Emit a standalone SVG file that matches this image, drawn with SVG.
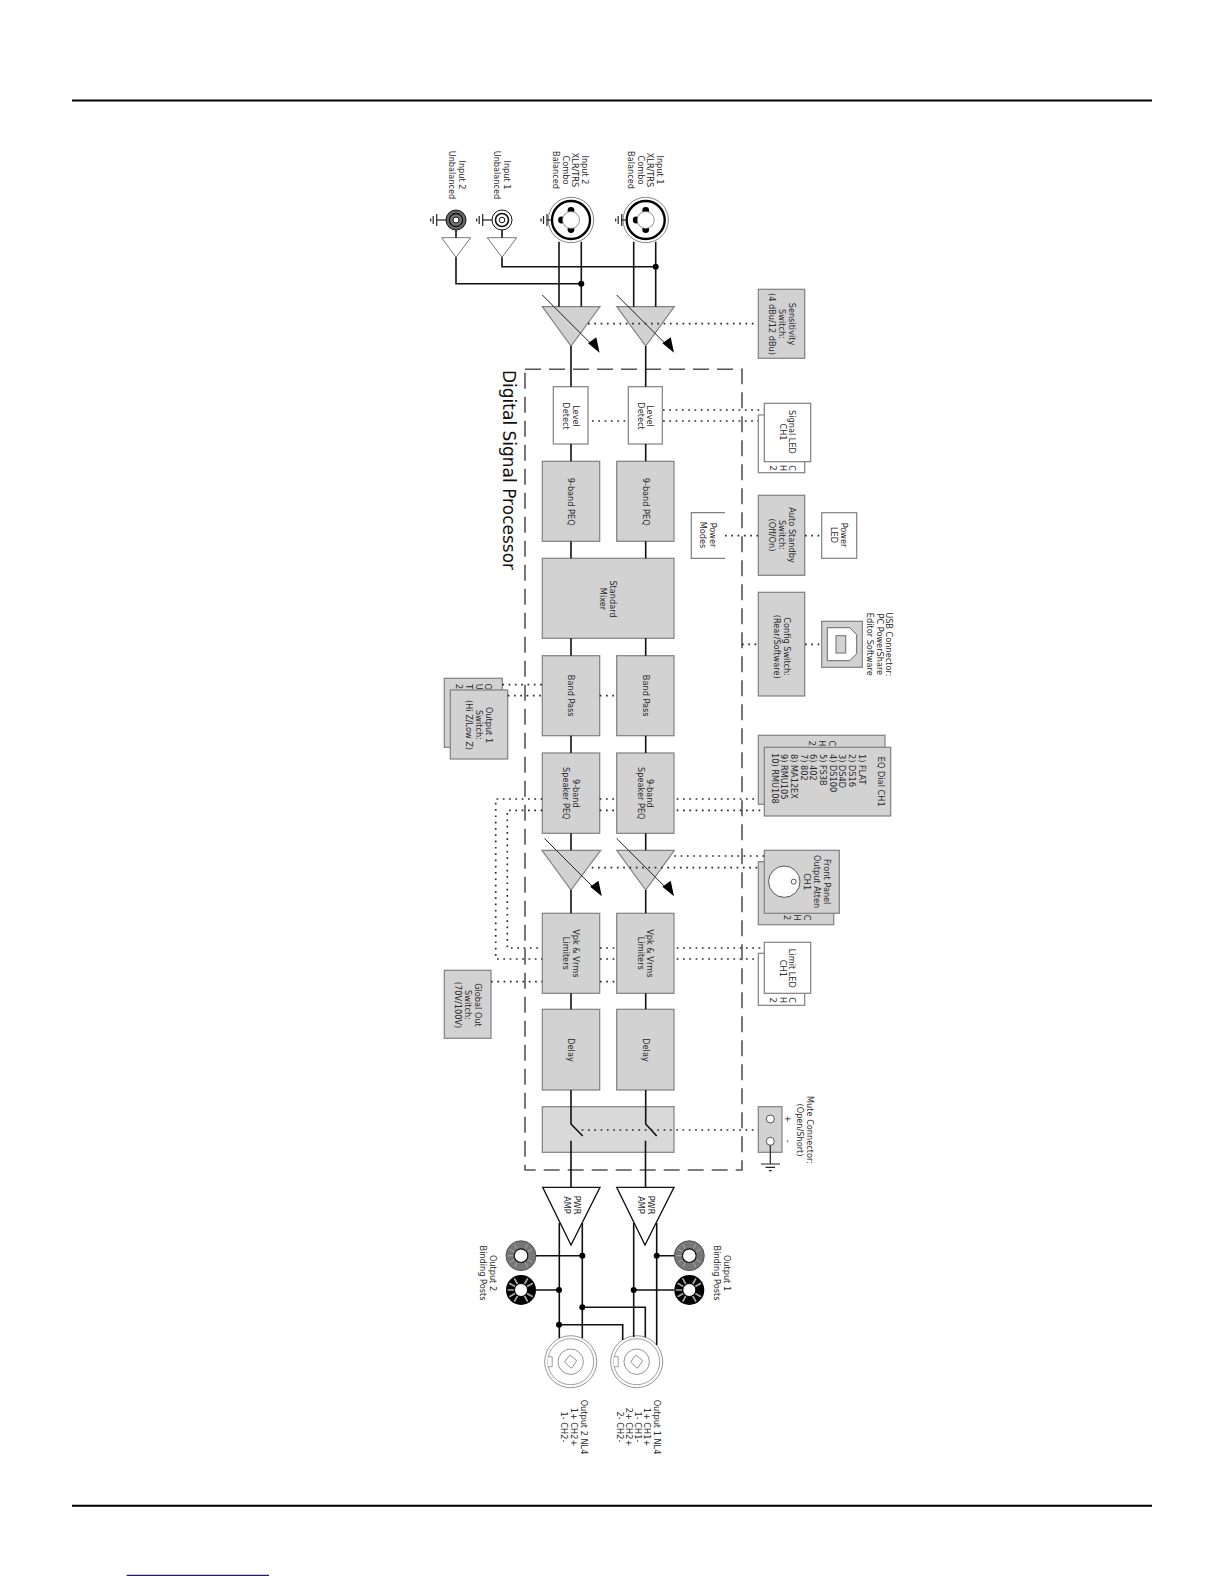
<svg xmlns="http://www.w3.org/2000/svg" xmlns:xlink="http://www.w3.org/1999/xlink" width="1224" height="1584" viewBox="0 0 1224 1584">
<style>
text{font-family:"DejaVu Sans","Liberation Sans",sans-serif;font-size:8.2px;fill:#2a2a2a;text-anchor:middle}
.s{text-anchor:start}
.title{font-size:17px;text-anchor:start;fill:#111}
.g{fill:#d2d2d2;stroke:#808080;stroke-width:1.2}
.w{fill:#fff;stroke:#808080;stroke-width:1.2}
.k{fill:none;stroke:#111;stroke-width:1.6}
.d{fill:none;stroke:#2a2a2a;stroke-width:1.7;stroke-dasharray:1.7 4.6}
.dash{fill:none;stroke:#555;stroke-width:1.6;stroke-dasharray:16 8}
.dot{fill:#000}
.thin{fill:#fff;stroke:#555;stroke-width:.8}
.gnd{fill:none;stroke:#222;stroke-width:1.2}
</style>
<defs>
<g id="xlr"><circle r="22.7" fill="#fff" stroke="#666" stroke-width=".8"/><circle r="19" fill="#fff" stroke="#000" stroke-width="2.4"/><circle cy="-9.5" r="3.4" fill="#000"/><circle cy="9.5" r="3.4" fill="#000"/><circle cx="-9.5" r="3.4" fill="#000"/><circle r="8.5" fill="#fff" stroke="#666" stroke-width=".7"/></g>
<g id="arrow"><path d="M0 0L52 52" fill="none" stroke="#222" stroke-width="1"/><path d="M45.7 48.3L54 42.3L57.3 57.7Z" fill="#000"/></g>
<g id="post1"><circle r="15" fill="#777" stroke="#444" stroke-width=".8"/><path d="M-13 0H-8M-11.3 -6.5L-7 -4M-6.5 -11.3L-4 -7M6.5 -11.3L4 -7M11.3 -6.5L7 -4M-11.3 6.5L-7 4M-6.5 11.3L-4 7M6.5 11.3L4 7M11.3 6.5L7 4" stroke="#aaa" stroke-width="1"/><circle r="6.8" fill="#fff" stroke="#111" stroke-width="1.1"/></g>
<g id="post2"><circle r="15" fill="#000"/><path d="M-13.5 0H-7M-11.7 -6.7L-6 -3.5M-6.7 -11.7L-3.5 -6M6.7 -11.7L3.5 -6M11.7 -6.7L6 -3.5M-11.7 6.7L-6 3.5M-6.7 11.7L-3.5 6M6.7 11.7L3.5 6M11.7 6.7L6 3.5" stroke="#aaa" stroke-width="1.7"/><circle r="6.5" fill="#fff" stroke="#000" stroke-width="1"/></g>
<g id="nl4"><circle r="26" fill="#fff" stroke="#666" stroke-width=".7"/><circle r="23" fill="#fff" stroke="#777" stroke-width=".7"/><path d="M-23 -5H-18.5V5H-23" fill="#fff" stroke="#777" stroke-width=".7"/><circle r="12.7" fill="#fff" stroke="#666" stroke-width=".7"/><path d="M-6 0L-1 -6.5L2 -4.5L6 -1L1 6.5L-2 4.5Z" fill="#fff" stroke="#666" stroke-width=".7"/></g>
<path id="xgnd" d="M0 -6V6M-3.5 -4V4M-6 -1.5V1.5" class="gnd"/>
</defs>

<rect width="1224" height="1584" fill="#fff"/>
<g id="page-rules">
<path d="M72 100.5H1152M72 1505.7H1152" stroke="#000" stroke-width="2" fill="none"/>
<path d="M126.7 1575.3H269" stroke="#1a1a80" stroke-width="1.2" fill="none"/>
</g>

<g id="dsp-frame">
<rect x="525" y="369.3" width="217" height="800.7" class="dash"/>
<text class="title" transform="translate(503 370) rotate(90)">Digital Signal Processor</text>
</g>

<g id="nodes">
<g id="input2-unbal"><circle cx="456" cy="220" r="10" fill="#666" stroke="#111" stroke-width="1"/><circle cx="456" cy="220" r="6.5" fill="#777" stroke="#111" stroke-width="1.3"/><circle cx="456" cy="220" r="3" fill="#fff" stroke="#111" stroke-width="1"/><path d="M436.7 220H446" class="gnd"/><use xlink:href="#xgnd" href="#xgnd" x="436.7" y="220"/><path d="M441.7 237.7H470.7L456 257.3Z" class="thin"/>
<text transform="translate(458.7 175) rotate(90)"><tspan x="0">Input 2</tspan><tspan x="0" dy="10">Unbalanced</tspan></text></g>
<g id="input1-unbal"><circle cx="502" cy="220" r="10" fill="#fff" stroke="#111" stroke-width="1"/><circle cx="502" cy="220" r="6.5" fill="#fff" stroke="#111" stroke-width="1.6"/><circle cx="502" cy="220" r="2.8" fill="#fff" stroke="#111" stroke-width="1"/><path d="M482.7 220H492" class="gnd"/><use xlink:href="#xgnd" href="#xgnd" x="482.7" y="220"/><path d="M487.3 237.7H516.7L502 257.3Z" class="thin"/>
<text transform="translate(503.7 175) rotate(90)"><tspan x="0">Input 1</tspan><tspan x="0" dy="10">Unbalanced</tspan></text></g>
<g id="input2-xlr"><use xlink:href="#xlr" href="#xlr" x="571" y="220"/><path d="M552 220H547" class="gnd"/><use xlink:href="#xgnd" href="#xgnd" x="547" y="220"/>
<text transform="translate(582 170) rotate(90)"><tspan x="0">Input 2</tspan><tspan x="0" dy="9.7">XLR/TRS</tspan><tspan x="0" dy="9.7">Combo</tspan><tspan x="0" dy="9.7">Balanced</tspan></text></g>
<g id="input1-xlr"><use xlink:href="#xlr" href="#xlr" x="645.7" y="220"/><path d="M626.7 220H621.7" class="gnd"/><use xlink:href="#xgnd" href="#xgnd" x="621.7" y="220"/>
<text transform="translate(657 170) rotate(90)"><tspan x="0">Input 1</tspan><tspan x="0" dy="9.7">XLR/TRS</tspan><tspan x="0" dy="9.7">Combo</tspan><tspan x="0" dy="9.7">Balanced</tspan></text></g>

<g id="gain1"><path d="M616.7 306.7H674.3L645.7 346Z" class="g"/></g>
<g id="gain2"><path d="M542.3 306.7H600L571 346Z" class="g"/></g>
<g id="sensitivity"><rect x="758.3" y="289.3" width="46.4" height="69" class="g"/><text transform="translate(788.7 324) rotate(90)"><tspan x="0">Sensitivity</tspan><tspan x="0" dy="10">Switch:</tspan><tspan x="0" dy="10">(4 dBu/12 dBu)</tspan></text></g>

<g id="level1"><rect x="628.3" y="386.7" width="34" height="57.3" class="w"/><text transform="translate(647 416) rotate(90)"><tspan x="0">Level</tspan><tspan x="0" dy="9.5">Detect</tspan></text></g>
<g id="level2"><rect x="553.3" y="386.7" width="34.7" height="57.3" class="w"/><text transform="translate(572.7 416) rotate(90)"><tspan x="0">Level</tspan><tspan x="0" dy="9.5">Detect</tspan></text></g>
<g id="peq1"><rect x="616.7" y="461.3" width="57.3" height="80" class="g"/><text transform="translate(642.5 501.7) rotate(90)">9-band PEQ</text></g>
<g id="peq2"><rect x="542.3" y="461.3" width="57.4" height="80" class="g"/><text transform="translate(567.8 501.7) rotate(90)">9-band PEQ</text></g>
<g id="mixer"><rect x="542.3" y="558.3" width="131.7" height="80" class="g"/><text transform="translate(609.7 599) rotate(90)"><tspan x="0">Standard</tspan><tspan x="0" dy="9.7">Mixer</tspan></text></g>
<g id="bp1"><rect x="616.7" y="655.7" width="57.3" height="80" class="g"/><text transform="translate(642.5 695.7) rotate(90)">Band Pass</text></g>
<g id="bp2"><rect x="542.3" y="655.7" width="57.4" height="80" class="g"/><text transform="translate(567.8 695.7) rotate(90)">Band Pass</text></g>
<g id="spk1"><rect x="616.7" y="753" width="57.3" height="80.3" class="g"/><text transform="translate(647 793.3) rotate(90)"><tspan x="0">9-band</tspan><tspan x="0" dy="9.5">Speaker PEQ</tspan></text></g>
<g id="spk2"><rect x="542.3" y="753" width="57.4" height="80.3" class="g"/><text transform="translate(573 793.3) rotate(90)"><tspan x="0">9-band</tspan><tspan x="0" dy="9.7">Speaker PEQ</tspan></text></g>
<g id="att1"><path d="M616.7 850.3H674.3L645.7 890Z" class="g"/></g>
<g id="att2"><path d="M542 850.3H600.7L571 890Z" class="g"/></g>
<g id="lim1"><rect x="616.7" y="913.3" width="57.3" height="80" class="g"/><text transform="translate(647 953.3) rotate(90)"><tspan x="0">Vpk &amp; Vrms</tspan><tspan x="0" dy="9.5">Limiters</tspan></text></g>
<g id="lim2"><rect x="542.3" y="913.3" width="57.4" height="80" class="g"/><text transform="translate(573 953.3) rotate(90)"><tspan x="0">Vpk &amp; Vrms</tspan><tspan x="0" dy="9.7">Limiters</tspan></text></g>
<g id="delay1"><rect x="616.7" y="1009.3" width="57.3" height="80.7" class="g"/><text transform="translate(642.5 1050) rotate(90)">Delay</text></g>
<g id="delay2"><rect x="542.3" y="1009.3" width="57.4" height="80.7" class="g"/><text transform="translate(567.8 1050) rotate(90)">Delay</text></g>
<g id="mute-block"><rect x="542.3" y="1106.7" width="131.7" height="45.6" fill="#d9d9d9" stroke="#808080" stroke-width="1.2"/></g>
<g id="pwr1"><path d="M616.7 1187.3H674L645 1245Z" fill="#fff" stroke="#111" stroke-width="1.3"/><text transform="translate(647.7 1205) rotate(90)"><tspan x="0">PWR</tspan><tspan x="0" dy="9.7">AMP</tspan></text></g>
<g id="pwr2"><path d="M542.7 1187.3H600L571 1245Z" fill="#fff" stroke="#111" stroke-width="1.3"/><text transform="translate(573.7 1205) rotate(90)"><tspan x="0">PWR</tspan><tspan x="0" dy="9.7">AMP</tspan></text></g>

<g id="signal-led"><rect x="758.3" y="415" width="46.4" height="57.7" class="w"/><text transform="translate(789.3 468) rotate(90)"><tspan x="0">C</tspan><tspan x="0" dy="9.8">H</tspan><tspan x="0" dy="9.8">2</tspan></text><rect x="764.3" y="403.3" width="46.4" height="58.4" class="w"/><text transform="translate(789.3 432) rotate(90)"><tspan x="0">Signal LED</tspan><tspan x="0" dy="9.6">CH1</tspan></text></g>
<g id="auto-standby"><rect x="758.3" y="495.3" width="46.4" height="80" class="g"/><text transform="translate(789.3 535) rotate(90)"><tspan x="0">Auto Standby</tspan><tspan x="0" dy="10">Switch:</tspan><tspan x="0" dy="10">(Off/On)</tspan></text></g>
<g id="power-modes"><path d="M725 512.7H691.3V558.3H725" class="w"/><text transform="translate(710.3 535) rotate(90)"><tspan x="0">Power</tspan><tspan x="0" dy="10">Modes</tspan></text></g>
<g id="power-led"><rect x="821.7" y="512.7" width="35" height="45.6" class="w"/><text transform="translate(840.7 535) rotate(90)"><tspan x="0">Power</tspan><tspan x="0" dy="9.5">LED</tspan></text></g>
<g id="config"><rect x="758.3" y="592.3" width="46.4" height="103.7" class="g"/><text transform="translate(783.7 646.7) rotate(90)"><tspan x="0">Config Switch:</tspan><tspan x="0" dy="10">(Rear/Software)</tspan></text></g>
<g id="usb"><rect x="821.7" y="621.3" width="40.6" height="46" class="g"/><path d="M827.3 627.7H849.7L856.7 634.7V653.7L849.7 660.7H827.3Z" fill="#fff" stroke="#666"/><rect x="836" y="635.7" width="9.7" height="17.3" class="g"/><text transform="translate(886.3 644.3) rotate(90)"><tspan x="0">USB Connector:</tspan><tspan x="0" dy="9.7">PC PowerShare</tspan><tspan x="0" dy="9.7">Editor Software</tspan></text></g>
<g id="output1-switch"><rect x="444.3" y="678.3" width="58" height="69" class="g"/><text transform="translate(485.3 686.7) rotate(90)"><tspan x="0">O</tspan><tspan x="0" dy="9.7">U</tspan><tspan x="0" dy="9.7">T</tspan><tspan x="0" dy="9.7">2</tspan></text><rect x="450.3" y="690" width="57.4" height="69" class="g"/><text transform="translate(486 725) rotate(90)"><tspan x="0">Output 1</tspan><tspan x="0" dy="9.8">Switch:</tspan><tspan x="0" dy="9.8">(Hi Z/Low Z)</tspan></text></g>
<g id="eq-dial"><rect x="758.3" y="735.3" width="126.7" height="69" class="g"/><text transform="translate(828.7 743.3) rotate(90)"><tspan x="0">C</tspan><tspan x="0" dy="9.8">H</tspan><tspan x="0" dy="9.8">2</tspan></text><rect x="764.3" y="747.3" width="126.4" height="68.7" class="g"/><text transform="translate(878 781.7) rotate(90)">EQ Dial CH1</text>
<text class="s" transform="translate(858.7 754) rotate(90)"><tspan x="0">1) FLAT</tspan><tspan x="0" dy="9.67">2) DS16</tspan><tspan x="0" dy="9.67">3) DS4D</tspan><tspan x="0" dy="9.67">4) DS100</tspan><tspan x="0" dy="9.67">5) FS3B</tspan><tspan x="0" dy="9.67">6) 402</tspan><tspan x="0" dy="9.67">7) 802</tspan><tspan x="0" dy="9.67">8) MA12EX</tspan><tspan x="0" dy="9.67">9) RMU105</tspan><tspan x="-1" dy="9.67">10) RMU108</tspan></text></g>
<g id="front-panel"><rect x="758.3" y="861.7" width="75.4" height="63" class="g"/><text transform="translate(803.7 917.7) rotate(90)"><tspan x="0">C</tspan><tspan x="0" dy="10">H</tspan><tspan x="0" dy="10">2</tspan></text><rect x="764.3" y="850.3" width="75" height="63" class="g"/><circle cx="784.3" cy="881.7" r="15.7" fill="#fff" stroke="#555"/><circle cx="793.7" cy="881.7" r="2.5" fill="#fff" stroke="#555"/><text transform="translate(823.7 881.7) rotate(90)"><tspan x="0">Front Panel</tspan><tspan x="0" dy="10">Output Atten</tspan><tspan x="0" dy="9.7">CH1</tspan></text></g>
<g id="limit-led"><rect x="758.3" y="953.3" width="46.4" height="52" class="w"/><text transform="translate(789.3 1000) rotate(90)"><tspan x="0">C</tspan><tspan x="0" dy="9.8">H</tspan><tspan x="0" dy="9.8">2</tspan></text><rect x="764.3" y="942.3" width="46.4" height="51" class="w"/><text transform="translate(789.3 968.3) rotate(90)"><tspan x="0">Limit LED</tspan><tspan x="0" dy="9.6">CH1</tspan></text></g>
<g id="global-out"><rect x="444.3" y="970.3" width="46.7" height="68" class="g"/><text transform="translate(474.7 1005) rotate(90)"><tspan x="0">Global Out</tspan><tspan x="0" dy="9.7">Switch:</tspan><tspan x="0" dy="9.7">(70V/100V)</tspan></text></g>
<g id="mute-connector"><rect x="758.3" y="1106.7" width="23.7" height="45.6" class="g"/><circle cx="770.3" cy="1119" r="4" fill="#fff" stroke="#555"/><circle cx="770.3" cy="1141.3" r="4" fill="#fff" stroke="#555"/><path d="M770.3 1145.3V1164M761 1164H780M765.5 1167.3H775M769 1170.7H771.6" class="gnd"/><text transform="translate(785 1119) rotate(90)">+</text><text transform="translate(785 1141.3) rotate(90)">-</text><text transform="translate(807 1130) rotate(90)"><tspan x="0">Mute Connector:</tspan><tspan x="0" dy="10">(Open/Short)</tspan></text></g>

<g id="post-o2-a"><use xlink:href="#post1" href="#post1" x="521" y="1255.7"/></g>
<g id="post-o2-b"><use xlink:href="#post2" href="#post2" x="521" y="1290"/></g>
<g id="post-o1-a"><use xlink:href="#post1" href="#post1" x="689.3" y="1255.7"/></g>
<g id="post-o1-b"><use xlink:href="#post2" href="#post2" x="689.3" y="1290"/></g>
<text transform="translate(490.3 1273) rotate(90)"><tspan x="0">Output 2</tspan><tspan x="0" dy="10">Binding Posts</tspan></text>
<text transform="translate(723.7 1273) rotate(90)"><tspan x="0">Output 1</tspan><tspan x="0" dy="9.5">Binding Posts</tspan></text>
<g id="nl4-2"><use xlink:href="#nl4" href="#nl4" x="570.7" y="1361.7"/><text transform="translate(581 1427) rotate(90)"><tspan x="0">Output 2 NL4</tspan><tspan x="0" dy="10">1+  CH2+</tspan><tspan x="0" dy="10">1-  CH2-</tspan></text></g>
<g id="nl4-1"><use xlink:href="#nl4" href="#nl4" x="636.7" y="1361.7"/><text transform="translate(654.3 1427) rotate(90)"><tspan x="0">Output 1 NL4</tspan><tspan x="0" dy="10">1+  CH1+</tspan><tspan x="0" dy="9.5">1-  CH1-</tspan><tspan x="0" dy="9">2+ CH2+</tspan><tspan x="0" dy="8.5">2-  CH2-</tspan></text></g>
</g>

<g id="connectors">
<path class="k" d="M456 230V237.7M502 230V237.7M502 257.3V266.7H655.7M456 257.3V283.7H581.3M559 241.7V306.7M581.3 241.7V306.7M633.7 241.7V306.7M655.7 241.7V306.7"/>
<path class="k" d="M645.7 346V386.7M645.7 444V461.3M645.7 541.3V558.3M645.7 638.3V655.7M645.7 735.7V753M645.7 833.3V850.3M645.7 890V913.3M645.7 993.3V1009.3M645.7 1090V1124L656.7 1136M645.5 1140.7V1187.3"/>
<path class="k" d="M571 346V386.7M571 444V461.3M571 541.3V558.3M571 638.3V655.7M571 735.7V753M571 833.3V850.3M571 890V913.3M571 993.3V1009.3M571 1090V1124L582.7 1136M571 1140.7V1187.3"/>
<path class="k" d="M559.3 1223V1338M582.3 1223V1338M633.7 1223V1337M656.7 1223V1345M536 1255.7H582.3M536 1290H559M656.7 1255.7H674.3M633.7 1290H674.3M582.3 1307.3H645.3V1337.3M559 1324.7H622.7V1340"/>
<g class="dot"><circle cx="655.7" cy="266.7" r="3"/><circle cx="581.3" cy="283.7" r="3"/><circle cx="582.3" cy="1255.7" r="3"/><circle cx="559" cy="1290" r="3"/><circle cx="656.7" cy="1255.7" r="3"/><circle cx="633.7" cy="1290" r="3"/><circle cx="582.3" cy="1307.3" r="3"/><circle cx="559" cy="1324.7" r="3"/></g>
<use xlink:href="#arrow" href="#arrow" x="616.7" y="295"/><use xlink:href="#arrow" href="#arrow" x="542.3" y="295"/>
<use xlink:href="#arrow" href="#arrow" x="616.7" y="838.5"/><use xlink:href="#arrow" href="#arrow" x="544.5" y="838.5"/>
<path class="d" d="M588 323.7H758M592 421H627M663 410H764M663 421H758M725 535.7H758M805 535.7H821.7M742 644.3H758M805 644.3H821.7"/>
<path class="d" d="M502.3 684.7H542.3M507.7 695.7H542.3M599.7 695.7H616.7"/>
<path class="d" d="M542.3 799H495.7V959H542.3M542.3 810.3H507.3V948H542.3M599.7 799H616.7M599.7 810.3H616.7M676.7 799H758.3M676.7 810.3H764.3"/>
<path class="d" d="M600 948H616.7M600 959H616.7M676.7 948H764.3M676.7 959H758.3M491 981.7H542.3M600 981.7H616.7"/>
<path class="d" d="M674.3 856H764.3M591.7 867.7H758.3M581.7 1130H758.3"/>
</g>
</svg>
